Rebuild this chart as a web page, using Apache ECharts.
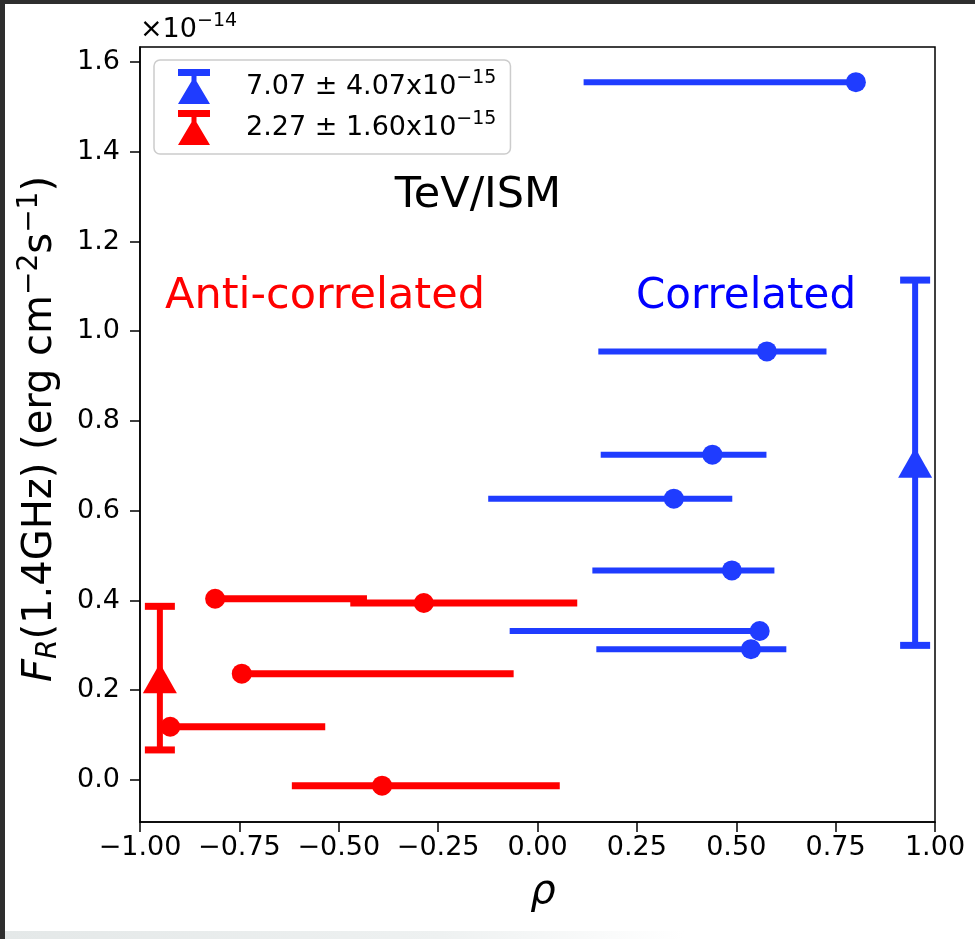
<!DOCTYPE html>
<html>
<head>
<meta charset="utf-8">
<script src="https://cdn.jsdelivr.net/npm/echarts@6/dist/echarts.min.js"></script>
<style>
  html, body { margin: 0; padding: 0; background: #fff; }
  #chart { position: absolute; left: 0; top: 0; width: 975px; height: 939px; }
  .edge { position: absolute; pointer-events: none; }
</style>
</head>
<body>
<div id="chart"></div>
<div class="edge" style="left:0;top:0;width:975px;height:4px;background:#2e2e2e"></div>
<div class="edge" style="left:0;top:0;width:5px;height:939px;background:#2e2e2e"></div>
<div class="edge" style="left:5px;top:931px;width:970px;height:8px;background:linear-gradient(to right,#e4e8e8,#eef1f1 45%,#fff 70%)"></div>
<script>
// Correlated sources: correlation coefficient rho (with range) vs radio flux F_R (units of 1e-14)
const blueRho     = [0.801, 0.577, 0.440, 0.343, 0.489, 0.559, 0.537];
const blueFlux    = [1.555, 0.955, 0.725, 0.627, 0.467, 0.332, 0.2915];
const blueRhoLow  = [0.116, 0.153, 0.159, -0.124, 0.138, -0.070, 0.148];
const blueRhoHigh = [0.801, 0.727, 0.576, 0.490, 0.596, 0.559, 0.626];

// Anti-correlated sources
const redRho     = [-0.811, -0.286, -0.744, -0.924, -0.391];
const redFlux    = [0.404, 0.3945, 0.237, 0.1186, -0.0127];
const redRhoLow  = [-0.811, -0.471, -0.744, -0.924, -0.618];
const redRhoHigh = [-0.429, 0.100, -0.060, -0.534, 0.056];

// Group means with standard deviation (units of 1e-14); [correlated, anti-correlated]
const meanRho  = [0.95, -0.95];
const meanFlux = [0.707, 0.227];
const meanErr  = [0.407, 0.160];

// Axis ticks
const xTicks = [-1, -0.75, -0.5, -0.25, 0, 0.25, 0.5, 0.75, 1];
const yTicks = [0, 0.2, 0.4, 0.6, 0.8, 1.0, 1.2, 1.4, 1.6];
const yMin = -0.0936, yMax = 1.6334;

const FONT = 'DejaVu Sans';
const BLUE = '#1f3cff';
const RED = '#ff0000';

const meanNames = ['Correlated mean', 'Anti-correlated mean'];
// legend text in units of 1e-15
const meanLabel = i => (meanFlux[i] * 10).toFixed(2) + ' ± ' + (meanErr[i] * 10).toFixed(2) + 'x10';

function hBars(data, color, width) {
  return {
    type: 'custom', data: data, encode: { x: 0, y: 1 }, z: 2, silent: true,
    renderItem: function (params, api) {
      const y = api.value(1);
      const a = api.coord([api.value(2), y]);
      const b = api.coord([api.value(3), y]);
      return { type: 'line', shape: { x1: a[0], y1: a[1], x2: b[0], y2: b[1] },
               style: { stroke: color, lineWidth: width } };
    }
  };
}

function vBars(data, color) {
  return {
    type: 'custom', data: data, encode: { x: 0, y: 1 }, z: 4, silent: true,
    renderItem: function (params, api) {
      const x = api.value(0), y = api.value(1), e = api.value(2);
      const t = api.coord([x, y + e]);
      const b = api.coord([x, y - e]);
      const h = 15;
      return { type: 'group', children: [
        { type: 'line', shape: { x1: t[0], y1: t[1], x2: b[0], y2: b[1] }, style: { stroke: color, lineWidth: 6 } },
        { type: 'line', shape: { x1: t[0] - h, y1: t[1], x2: t[0] + h, y2: t[1] }, style: { stroke: color, lineWidth: 7 } },
        { type: 'line', shape: { x1: b[0] - h, y1: b[1], x2: b[0] + h, y2: b[1] }, style: { stroke: color, lineWidth: 7 } }
      ] };
    }
  };
}

const blueBars = blueRho.map((r, i) => [r, blueFlux[i], blueRhoLow[i], blueRhoHigh[i]]);
const redBars  = redRho.map((r, i) => [r, redFlux[i], redRhoLow[i], redRhoHigh[i]]);

// legend glyph: error-bar cap, stem and triangle marker
const ICON = 'path://M0,0H32V7H0Z M13.5,7H18.5V20H13.5Z M16,8L32,35H0Z';

const chart = echarts.init(document.getElementById('chart'), null, { renderer: 'canvas' });

const option = {
  animation: false,
  backgroundColor: '#fff',
  grid: { left: 140, right: 40, top: 47, bottom: 117, show: true, borderColor: '#000', borderWidth: 1.5, backgroundColor: '#fff' },
  xAxis: {
    type: 'value', min: -1, max: 1, interval: 0.25,
    axisLine: { show: true, onZero: false, lineStyle: { color: '#000', width: 1.5 } },
    axisTick: { show: true, length: 10, lineStyle: { color: '#000', width: 1.5 } },
    axisLabel: {
      margin: 12, fontFamily: FONT, fontSize: 27, color: '#000',
      formatter: v => (v < 0 ? '\u2212' : '') + Math.abs(v).toFixed(2)
    },
    splitLine: { show: false }
  },
  yAxis: {
    type: 'value', min: yMin, max: yMax,
    axisLine: { show: true, onZero: false, lineStyle: { color: '#000', width: 1.5 } },
    axisTick: { show: true, length: 10, customValues: yTicks, lineStyle: { color: '#000', width: 1.5 } },
    axisLabel: {
      margin: 20, fontFamily: FONT, fontSize: 27, color: '#000', customValues: yTicks,
      formatter: v => v.toFixed(1)
    },
    splitLine: { show: false }
  },
  legend: {
    orient: 'vertical', left: 154, top: 60,
    padding: [9, 14, 9, 24], itemGap: 6, itemWidth: 32, itemHeight: 35,
    backgroundColor: '#fff', borderColor: '#cccccc', borderWidth: 1.5, borderRadius: 6,
    data: [{ name: meanNames[0], icon: ICON }, { name: meanNames[1], icon: ICON }],
    formatter: name => '{v|' + meanLabel(meanNames.indexOf(name)) + '}{e|\u221215}',
    textStyle: {
      padding: [0, 0, 0, 31],
      rich: {
        v: { fontFamily: FONT, fontSize: 27, color: '#000' },
        e: { fontFamily: FONT, fontSize: 19, color: '#000', padding: [0, 0, 16, 0] }
      }
    }
  },
  graphic: [
    { type: 'text', x: 140, y: 30, silent: true,
      style: { text: '{b|\u00d710}{s|\u221214}', verticalAlign: 'middle', align: 'left',
        rich: { b: { fontFamily: FONT, fontSize: 27, fill: '#000' },
                s: { fontFamily: FONT, fontSize: 19, fill: '#000', padding: [0, 0, 18, 0] } } } },
    { type: 'text', x: 478, y: 196, silent: true,
      style: { text: 'TeV/ISM', fontFamily: FONT, fontSize: 43, fill: '#000', align: 'center', verticalAlign: 'middle' } },
    { type: 'text', x: 165, y: 297, silent: true,
      style: { text: 'Anti-correlated', fontFamily: FONT, fontSize: 43, fill: '#ff0000', align: 'left', verticalAlign: 'middle' } },
    { type: 'text', x: 746, y: 297, silent: true,
      style: { text: 'Correlated', fontFamily: FONT, fontSize: 42, fill: '#0000ff', align: 'center', verticalAlign: 'middle' } },
    { type: 'text', x: 543, y: 893, silent: true,
      style: { text: 'ρ', fontFamily: FONT, fontSize: 40, fontStyle: 'italic', fill: '#000', align: 'center', verticalAlign: 'middle' } },
    { type: 'text', x: 41, y: 429, rotation: Math.PI / 2, silent: true,
      style: {
        text: '{i|F}{sub|R}{n|(1.4GHz) (erg cm}{sup|\u22122}{n|s}{sup|\u22121}{n|)}',
        align: 'center', verticalAlign: 'middle',
        rich: {
          i: { fontFamily: FONT, fontSize: 40, fontStyle: 'italic', fill: '#000' },
          n: { fontFamily: FONT, fontSize: 40, fill: '#000' },
          sub: { fontFamily: FONT, fontSize: 28, fontStyle: 'italic', fill: '#000', padding: [16, 0, 0, 0] },
          sup: { fontFamily: FONT, fontSize: 28, fill: '#000', padding: [0, 0, 22, 0] }
        }
      } }
  ],
  series: [
    hBars(blueBars, BLUE, 6),
    { type: 'scatter', data: blueRho.map((r, i) => [r, blueFlux[i]]), symbol: 'circle', symbolSize: 20,
      itemStyle: { color: BLUE, opacity: 1 }, z: 3, silent: true },
    hBars(redBars, RED, 7),
    { type: 'scatter', data: redRho.map((r, i) => [r, redFlux[i]]), symbol: 'circle', symbolSize: 20,
      itemStyle: { color: RED, opacity: 1 }, z: 3, silent: true },
    vBars([[meanRho[0], meanFlux[0], meanErr[0]]], BLUE),
    vBars([[meanRho[1], meanFlux[1], meanErr[1]]], RED),
    { type: 'scatter', name: meanNames[0], data: [[meanRho[0], meanFlux[0]]], symbol: 'triangle', symbolSize: [34, 30],
      itemStyle: { color: BLUE, opacity: 1 }, z: 5, silent: true },
    { type: 'scatter', name: meanNames[1], data: [[meanRho[1], meanFlux[1]]], symbol: 'triangle', symbolSize: [34, 30],
      itemStyle: { color: RED, opacity: 1 }, z: 5, silent: true }
  ]
};

chart.setOption(option);
</script>
</body>
</html>
